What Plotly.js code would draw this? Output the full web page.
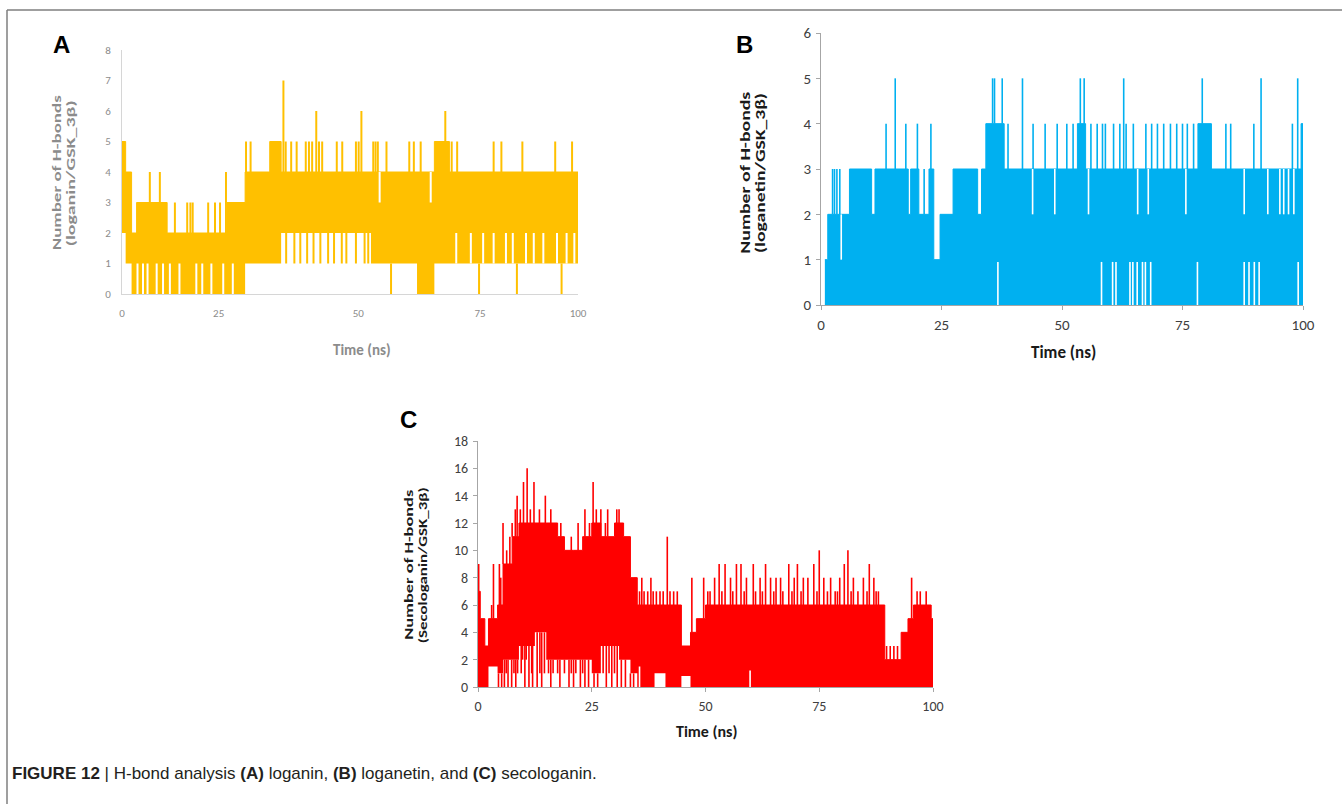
<!DOCTYPE html>
<html><head><meta charset="utf-8">
<script src="https://cdn.plot.ly/plotly-3.0.1.min.js"></script>
<style>html,body{margin:0;padding:0;background:#fff}#chart{width:1342px;height:804px}</style>
</head><body><div id="chart"></div>
<script>
// ---------- Panel A : loganin / GSK_3beta ----------
const aBandT  = [0, 0.8, 2.1, 3.2, 9.9, 23.0, 27.0, 32.4, 34.9, 54.6, 64.7, 68.5, 71.8, 100];
const aBandLo = [2, 1,   0,   0,   0,   0,    1,    1,    2,    1,    0,    1,    1,    1];
const aBandHi = [5, 4,   2,   3,   2,   3,    4,    5,    4,    4,    4,    5,    4,    4];
const aSpikeT = [6.1, 8.3, 11.6, 14.3, 15.0, 15.5, 18.9, 20.4, 21.5, 22.8, 27.2, 28.2, 35.4, 35.9, 37.1, 38.3, 40.3, 41.0, 41.7, 42.6, 43.2, 43.9, 47.1, 48.3, 51.3, 51.9, 52.5, 55.1, 55.6, 56.1, 58.0, 63.0, 64.0, 65.5, 70.9, 72.3, 73.5, 81.5, 83.2, 87.8, 95.0, 98.7];
const aSpikeV = [4,   4,   3,    3,    3,    3,    3,    3,    3,    4,    5,    5,    7,    5,    5,    5,    5,    5,    5,    6,    5,    5,    5,    5,    5,    5,    6,    5,    5,    5,    5,    5,    5,    5,    6,    5,    5,    5,    5,    5,    5,    5];
const aDipT = [36.0, 37.8, 39.1, 40.6, 42.0, 43.5, 45.2, 46.5, 48.2, 49.2, 51.3, 53.2, 54.0, 59.0, 78.3, 86.6, 96.4];
const aDipV = [1,    1,    1,    1,    1,    1,    1,    1,    1,    1,    1,    1,    1,    0,    0,    0,    0];
const aGapT    = [3.4, 4.6, 5.6, 7.6, 9.0, 10.5, 12.6, 16.3, 17.6, 19.6, 22.2, 24.3, 73.3, 76.5, 79.2, 81.5, 84.2, 85.7, 88.6, 90.3, 92.4, 95.4, 97.5, 99.2, 56.5, 67.7];
const aGapFrom = [0,   0,   0,   0,   0,   0,    0,    0,    0,    0,    0,    0,    1,    1,    1,    1,    1,    1,    1,    1,    1,    1,    1,    1,    3,    3];
const aGapTo   = [1,   1,   1,   1,   1,   1,    1,    1,    1,    1,    1,    1,    2,    2,    2,    2,    2,    2,    2,    2,    2,    2,    2,    2,    4,    4];
const aTickVals = [0, 21.2, 51.8, 78.5, 100];
const aTickText = ['0', '25', '50', '75', '100'];

// ---------- Panel B : loganetin / GSK_3beta ----------
const bBandT  = [0.8, 1.4, 2.3, 5.9, 10.5, 11.2, 18.1, 18.6, 20.3, 22.4, 23.4, 24.7, 27.4, 32.5, 33.3, 34.2, 38.0, 53.2, 54.9, 78.2, 81.0, 99.6, 100];
const bBandHi = [1,   2,   2,   3,   2,    3,    2,    3,    2,    3,    1,    2,    3,    2,    3,    4,    3,    4,    3,    4,    3,    4,    4];
const bSpikeT = [2.4, 2.8, 3.3, 3.9, 13.5, 15.4, 17.6, 20.0, 21.4, 22.8, 35.6, 36.0, 37.6, 38.8, 41.8, 44.0, 46.5, 49.0, 51.0, 52.3, 53.8, 54.6, 56.0, 57.3, 58.4, 59.0, 60.7, 62.0, 62.8, 63.3, 64.8, 67.4, 68.6, 69.8, 71.1, 72.5, 73.8, 75.0, 76.0, 77.3, 79.1, 84.0, 85.0, 89.8, 91.3, 97.8, 98.9];
const bSpikeV = [3,   3,   3,   3,   4,    5,    4,    4,    3,    4,    5,    5,    5,    4,    5,    4,    4,    4,    4,    4,    5,    5,    4,    4,    4,    4,    4,    4,    5,    4,    4,    4,    4,    4,    4,    4,    4,    4,    4,    4,    5,    4,    4,    4,    5,    4,    5];
const bGapT    = [4.2, 43.9, 48.5, 55.5, 65.7, 67.9, 75.7, 87.8, 92.7, 95.2, 96.0, 97.0, 98.1, 36.7, 58.2, 60.5, 61.2, 64.1, 64.7, 65.6, 66.7, 67.3, 68.4, 78.1, 87.8, 88.8, 89.9, 90.9, 99.0];
const bGapFrom = [1,   2,    2,    2,    2,    2,    2,    2,    2,    2,    2,    2,    2,    0,    0,    0,    0,    0,    0,    0,    0,    0,    0,    0,    0,    0,    0,    0,    0];
const bGapTo   = [2,   3,    3,    3,    3,    3,    3,    3,    3,    3,    3,    3,    3,    0.95, 0.95, 0.95, 0.95, 0.95, 0.95, 0.95, 0.95, 0.95, 0.95, 0.95, 0.95, 0.95, 0.95, 0.95, 0.95];

// ---------- Panel C : secologanin / GSK_3beta ----------
const cBandT  = [0, 0.5, 1.5, 2.3, 4.3, 5.5, 7.5, 9.0, 12.5, 15.0, 17.5, 19.0, 21.0, 23.0, 25.0, 27.0, 30.0, 31.0, 32.0, 33.5, 35.0, 38.8, 41.2, 44.7, 46.7, 48.0, 50.0, 89.4, 93.0, 94.5, 95.7, 99.6, 100];
const cBandHi = [7, 5,   3,   5,   6,   9,   11,  12,  12,   12,   11,   10,   10,   11,   12,   11,   12,   12,   11,   8,    6,    6,    6,    3,    4,    5,    6,    2,    4,    5,    6,    5,    5];
const cBandLo = [0, 0,   0,   1.5, 1,   2,   2,   3,   4,    2,    2,    2,    2,    2,    1,    3,    3,    2,    2,    1,    0,    1,    0,    0.8,  0,    0,    0,    0,    0,    0,    0,    0,    0];
const cSpikeT = [0.15, 3.0, 3.4, 4.7, 5.0, 5.5, 6.3, 7.0, 7.5, 8.2, 8.6, 9.3, 10.0, 10.8, 11.5, 12.3, 13.5, 14.8, 16.0, 18.2, 20.5, 22.0, 23.5, 24.5, 25.3, 26.0, 27.0, 28.0, 28.5, 30.5, 31.0, 31.8, 34.0, 34.5, 35.5, 36.0, 36.5, 37.3, 38.0, 38.5, 39.2, 40.0, 40.7, 41.6, 42.2, 43.0, 43.8, 47.0, 49.6, 50.5, 51.0, 52.0, 53.0, 53.6, 54.3, 55.5, 56.0, 56.8, 57.8, 58.5, 59.0, 60.5, 61.0, 62.0, 62.5, 63.2, 64.3, 65.0, 65.5, 66.5, 67.0, 68.3, 69.0, 69.5, 70.2, 71.0, 71.5, 72.5, 73.8, 74.5, 75.0, 76.0, 76.8, 77.5, 78.5, 79.0, 79.5, 80.5, 81.3, 82.0, 82.5, 83.5, 84.7, 85.5, 86.0, 87.0, 87.5, 88.0, 89.8, 90.6, 91.4, 92.2, 95.3, 96.5, 97.2, 98.5];
const cSpikeV = [9,    6,   9,   9,   8,   12,  10,  11,  12,  13,  14,  13,  15,   16,   13,   15,   13,   14,   13,   12,   11,   12,   13,   12,   15,   13,   13,   12,   13,   13,   13,   12,   8,    7,    7,    8,    7,    7,    8,    7,    7,    7,    7,    11,   7,    7,    7,    8,    8,    7,    7,    8,    9,    7,    9,    8,    7,    9,    9,    7,    8,    9,    7,    8,    7,    9,    8,    7,    8,    8,    7,    9,    7,    8,    9,    7,    8,    8,    9,    7,    10,   8,    7,    8,    7,    7,    8,    9,    10,   7,    8,    7,    8,    7,    9,    8,    7,    7,    3,    3,    3,    3,    8,    7,    7,    7];
const cDipT = [4.5, 5.2, 5.8, 6.2, 6.6, 7.4, 7.9, 8.3, 8.7, 9.5, 9.8, 10.3, 10.6, 11.2, 11.8, 12.0, 13.0, 13.6, 14.0, 14.6, 15.5, 16.0, 16.5, 17.5, 18.0, 19.0, 20.0, 20.5, 21.0, 21.5, 22.5, 23.0, 23.5, 24.3, 25.5, 26.3, 27.5, 28.2, 28.8, 29.4, 30.0, 30.6, 31.5, 32.4, 33.5, 34.2];
const cDipV = [0,   0,   0,   1,   0,   0,   1,   0,   1,   1,   2,   0,    2,    0,    1,    0,    0,    1,    0,    1,    1,    0,    1,    1,    0,    1,    0,    1,    0,    1,    0,    1,    0,    0,    0,    0,    1,    0,    1,    0,    1,    0,    0,    0,    0,    0];
const cGapT    = [35.5, 59.8];
const cGapFrom = [0,    0];
const cGapTo   = [1.5,  1.2];

// ---------- helpers ----------
const W = 1342, H = 804;
const px = v => v / W, py = v => 1 - v / H;
function stepAt(T, V, t) { let v = V[0]; for (let i = 0; i < T.length; i++) { if (T[i] <= t) v = V[i]; else break; } return v; }
function vlines(ts, from, to) {
  const x = [], y = [];
  ts.forEach((t, i) => { x.push(t, t, null); y.push(from(t, i), to(t, i), null); });
  return {x, y};
}
function base(xa, ya) { return {type: 'scatter', mode: 'lines', xaxis: xa, yaxis: ya, hoverinfo: 'skip', showlegend: false}; }
function panel(o) {
  const tr = [];
  tr.push(Object.assign(base(o.xa, o.ya), {x: o.T, y: o.lo, line: {shape: 'hv', width: 0, color: o.color}}));
  tr.push(Object.assign(base(o.xa, o.ya), {x: o.T, y: o.hi, line: {shape: 'hv', width: 1, color: o.color}, fill: 'tonexty', fillcolor: o.color}));
  if (o.gapT.length) {
    const g = vlines(o.gapT, (t, i) => o.gapFrom[i], (t, i) => o.gapTo[i]);
    tr.push(Object.assign(base(o.xa, o.ya), g, {line: {width: o.gw, color: '#ffffff'}}));
  }
  if (o.dipT.length) {
    const d = vlines(o.dipT, t => stepAt(o.T, o.lo, t), (t, i) => o.dipV[i]);
    tr.push(Object.assign(base(o.xa, o.ya), d, {line: {width: o.lw, color: o.color}}));
  }
  const s = vlines(o.spikeT, t => stepAt(o.T, o.hi, t), (t, i) => o.spikeV[i]);
  tr.push(Object.assign(base(o.xa, o.ya), s, {line: {width: o.lw, color: o.color}}));
  return tr;
}

const traces = [].concat(
  panel({xa: 'x', ya: 'y', color: '#FFC000', T: aBandT, lo: aBandLo, hi: aBandHi, spikeT: aSpikeT, spikeV: aSpikeV, dipT: aDipT, dipV: aDipV, gapT: aGapT, gapFrom: aGapFrom, gapTo: aGapTo, lw: 2, gw: 2}),
  panel({xa: 'x2', ya: 'y2', color: '#00B0F0', T: bBandT, lo: bBandT.map(() => 0), hi: bBandHi, spikeT: bSpikeT, spikeV: bSpikeV, dipT: [], dipV: [], gapT: bGapT, gapFrom: bGapFrom, gapTo: bGapTo, lw: 1.6, gw: 1.6}),
  panel({xa: 'x3', ya: 'y3', color: '#FF0000', T: cBandT, lo: cBandLo, hi: cBandHi, spikeT: cSpikeT, spikeV: cSpikeV, dipT: cDipT, dipV: cDipV, gapT: cGapT, gapFrom: cGapFrom, gapTo: cGapTo, lw: 1.6, gw: 1.6})
);

const tickFam = 'Carlito, Lato, "Open Sans", sans-serif';
function ax(extra) {
  return Object.assign({showgrid: false, zeroline: false, showline: true, linewidth: 1, fixedrange: true}, extra);
}
const layout = {
  width: W, height: H, margin: {l: 0, r: 0, t: 0, b: 0},
  paper_bgcolor: '#ffffff', plot_bgcolor: 'rgba(0,0,0,0)', showlegend: false,
  xaxis: ax({domain: [px(122), px(578)], anchor: 'y', range: [0, 100], tickvals: aTickVals, ticktext: aTickText, ticks: '', linecolor: '#d6d6d6', tickfont: {family: tickFam, size: 11, color: '#8c8c8c'}, ticklabelstandoff: 9}),
  yaxis: ax({domain: [py(294), py(50)], anchor: 'x', range: [0, 8], dtick: 1, ticks: '', linecolor: '#d6d6d6', tickfont: {family: tickFam, size: 11, color: '#8c8c8c'}, ticklabelstandoff: 8}),
  xaxis2: ax({domain: [px(821), px(1303)], anchor: 'y2', range: [0, 100], dtick: 25, ticks: 'outside', ticklen: 4, tickcolor: '#a6a6a6', linecolor: '#a6a6a6', tickfont: {family: tickFam, size: 15, color: '#404040'}, ticklabelstandoff: 2}),
  yaxis2: ax({domain: [py(305), py(33)], anchor: 'x2', range: [0, 6], dtick: 1, ticks: 'outside', ticklen: 4, tickcolor: '#a6a6a6', linecolor: '#a6a6a6', tickfont: {family: tickFam, size: 15, color: '#404040'}, ticklabelstandoff: 2}),
  xaxis3: ax({domain: [px(478), px(933)], anchor: 'y3', range: [0, 100], dtick: 25, ticks: 'outside', ticklen: 4, tickcolor: '#a6a6a6', linecolor: '#a6a6a6', tickfont: {family: tickFam, size: 14, color: '#404040'}, ticklabelstandoff: 2}),
  yaxis3: ax({domain: [py(687), py(441)], anchor: 'x3', range: [0, 18], dtick: 2, ticks: 'outside', ticklen: 4, tickcolor: '#a6a6a6', linecolor: '#a6a6a6', tickfont: {family: tickFam, size: 14, color: '#404040'}, ticklabelstandoff: 2}),
  shapes: [
    {type: 'line', xref: 'paper', yref: 'paper', x0: px(7), x1: 1, y0: py(10), y1: py(10), line: {color: '#7f7f7f', width: 1.5}},
    {type: 'line', xref: 'paper', yref: 'paper', x0: px(7), x1: px(7), y0: py(10), y1: 0, line: {color: '#7f7f7f', width: 1.5}}
  ],
  annotations: []
};
const stretch = []; // [annotation index, target text length in px]
function note(text, x, y, size, color, extra, len) {
  if (len) stretch.push([layout.annotations.length, len]);
  layout.annotations.push(Object.assign({xref: 'paper', yref: 'paper', x: px(x), y: py(y), text: text, showarrow: false, xanchor: 'center', yanchor: 'middle', font: {family: tickFam, size: size, color: color}}, extra || {}));
}
const letterFont = {family: '"Liberation Sans", Arial, sans-serif', size: 24, color: '#000000'};
note('<b>A</b>', 61, 45, 24, '#000', {font: letterFont});
note('<b>B</b>', 744, 45, 24, '#000', {font: letterFont});
note('<b>C</b>', 409, 420, 24, '#000', {font: letterFont});
note('<b>Number of H-bonds</b>', 56, 173, 12.5, '#8c8c8c', {textangle: -90}, 155);
note('<b>(loganin/GSK_3β)</b>', 70, 173, 12.5, '#8c8c8c', {textangle: -90}, 146);
note('<b>Time (ns)</b>', 362, 350, 15, '#8c8c8c');
note('<b>Number of H-bonds</b>', 745, 173, 13, '#1a1a1a', {textangle: -90}, 162);
note('<b>(loganetin/GSK_3β)</b>', 760, 173, 13, '#1a1a1a', {textangle: -90}, 160);
note('<b>Time (ns)</b>', 1063, 352, 17, '#1a1a1a');
note('<b>Number of H-bonds</b>', 408, 565, 12.5, '#1a1a1a', {textangle: -90}, 150);
note('<b>(Secologanin/GSK_3β)</b>', 422, 565, 12.5, '#1a1a1a', {textangle: -90}, 156);
note('<b>Time (ns)</b>', 706, 731, 16, '#1a1a1a');
note('<b>FIGURE 12</b> | H-bond analysis <b>(A)</b> loganin, <b>(B)</b> loganetin, and <b>(C)</b> secologanin.', 10, 773, 17, '#231f20',
  {xanchor: 'left', font: {family: '"Liberation Sans Narrow", "Arial Narrow", "Liberation Sans", Arial, sans-serif', size: 17, color: '#231f20'}});

Plotly.newPlot('chart', traces, layout, {staticPlot: true, displayModeBar: false}).then(() => {
  stretch.forEach(([i, len]) => {
    const t = document.querySelector('g.annotation[data-index="' + i + '"] text.annotation-text');
    if (t) { t.setAttribute('textLength', len); t.setAttribute('lengthAdjust', 'spacingAndGlyphs'); }
  });
});
</script></body></html>
